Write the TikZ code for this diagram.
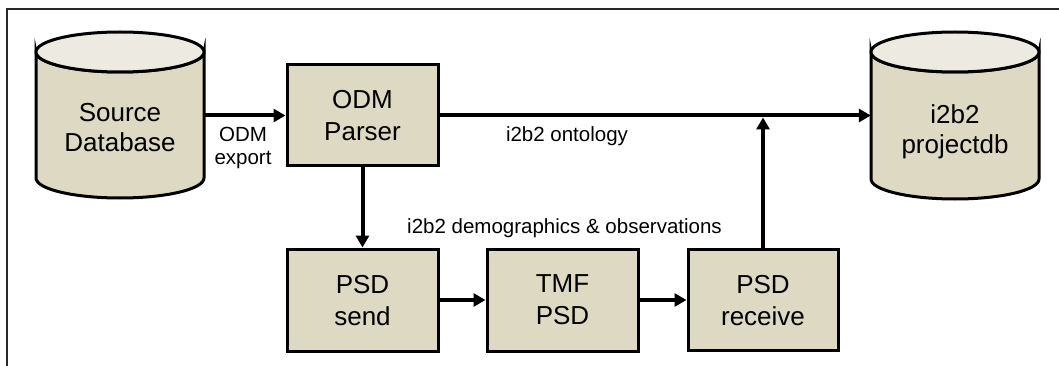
\documentclass[tikz,border=0pt]{standalone}
\usepackage{fontspec}
\setmainfont{Liberation Sans}
\usetikzlibrary{arrows.meta}
\definecolor{bodyfill}{RGB}{221,217,195}
\definecolor{topfill}{RGB}{237,235,225}
\definecolor{framecol}{RGB}{40,40,40}
\begin{document}
\begin{tikzpicture}[x=1pt,y=1pt,
  procbox/.style={draw=black,line width=3pt,fill=bodyfill,minimum width=148pt,minimum height=98pt,
    inner sep=0pt,align=center,font=\fontsize{26}{32}\selectfont,text depth=0pt},
  cylarea/.style={minimum width=168pt,minimum height=166pt,inner sep=0pt},
  cyltext/.style={align=center,font=\fontsize{26}{30}\selectfont,text depth=0pt,inner sep=0pt},
  cylline/.style={draw=black,line width=3pt},
  lbl/.style={align=center,font=\fontsize{20.5}{23.5}\selectfont,inner sep=0pt},
  flow/.style={line width=4pt,-{Triangle[length=12pt,width=13pt]}},
  frameline/.style={draw=framecol,line width=2pt}]
\useasboundingbox (0,0) rectangle (1059,-366);
% frame
\draw[frameline] (7,-370) -- (7,-9.5) -- (1065,-9.5);
% cylinders
\path[cylline,fill=bodyfill] (36,-52) -- (36,-178) arc[start angle=180,end angle=360,x radius=84,y radius=20]
   -- (204,-52) arc[start angle=0,end angle=-180,x radius=84,y radius=20] -- cycle;
\draw[cylline,fill=topfill] (120,-52) ellipse[x radius=84,y radius=20];
\path[cylline,fill=bodyfill] (871,-52) -- (871,-179) arc[start angle=180,end angle=360,x radius=84,y radius=20]
   -- (1039,-52) arc[start angle=0,end angle=-180,x radius=84,y radius=20] -- cycle;
\draw[cylline,fill=topfill] (955,-52) ellipse[x radius=84,y radius=20];
\node[cylarea] (src) at (120,-115) {};
\node[cylarea] (dst) at (955,-115) {};
\node[cyltext] (srctext) at (120,-127) {Source\\Database};
\node[cyltext] (dsttext) at (955,-129.5) {i2b2\\projectdb};
% boxes
\node[procbox,minimum width=151pt,minimum height=101pt] (odm) at (362.5,-115.5) {ODM\\Parser};
\node[procbox,minimum width=151pt,minimum height=102pt] (send) at (362.5,-300) {PSD\\send};
\node[procbox,minimum width=151pt,minimum height=102pt] (tmf) at (562.5,-300) {TMF\\PSD};
\node[procbox,minimum width=150pt,minimum height=101pt] (recv) at (763,-300) {PSD\\receive};
% connectors
\draw[flow] (src.east |- odm.west) -- (odm.west);
\draw[flow] (odm.east) -- (dst.west |- odm.east);
\coordinate (joinpt) at (recv.north |- odm.east);
\draw[flow] (recv.north) -- ([yshift=-2pt]joinpt);
\draw[flow] (odm.south) -- (send.north);
\draw[flow] (send.east) -- (tmf.west);
\draw[flow] (tmf.east) -- (recv.west);
% labels
\node[lbl,text depth=0pt] (lodm) at (243,-146) {ODM\\export};
\node[lbl,anchor=base] (lont) at (567,-142) {i2b2 ontology};
\node[lbl,anchor=base] (ldem) at (564.5,-233) {i2b2 demographics \& observations};
\end{tikzpicture}
\end{document}
